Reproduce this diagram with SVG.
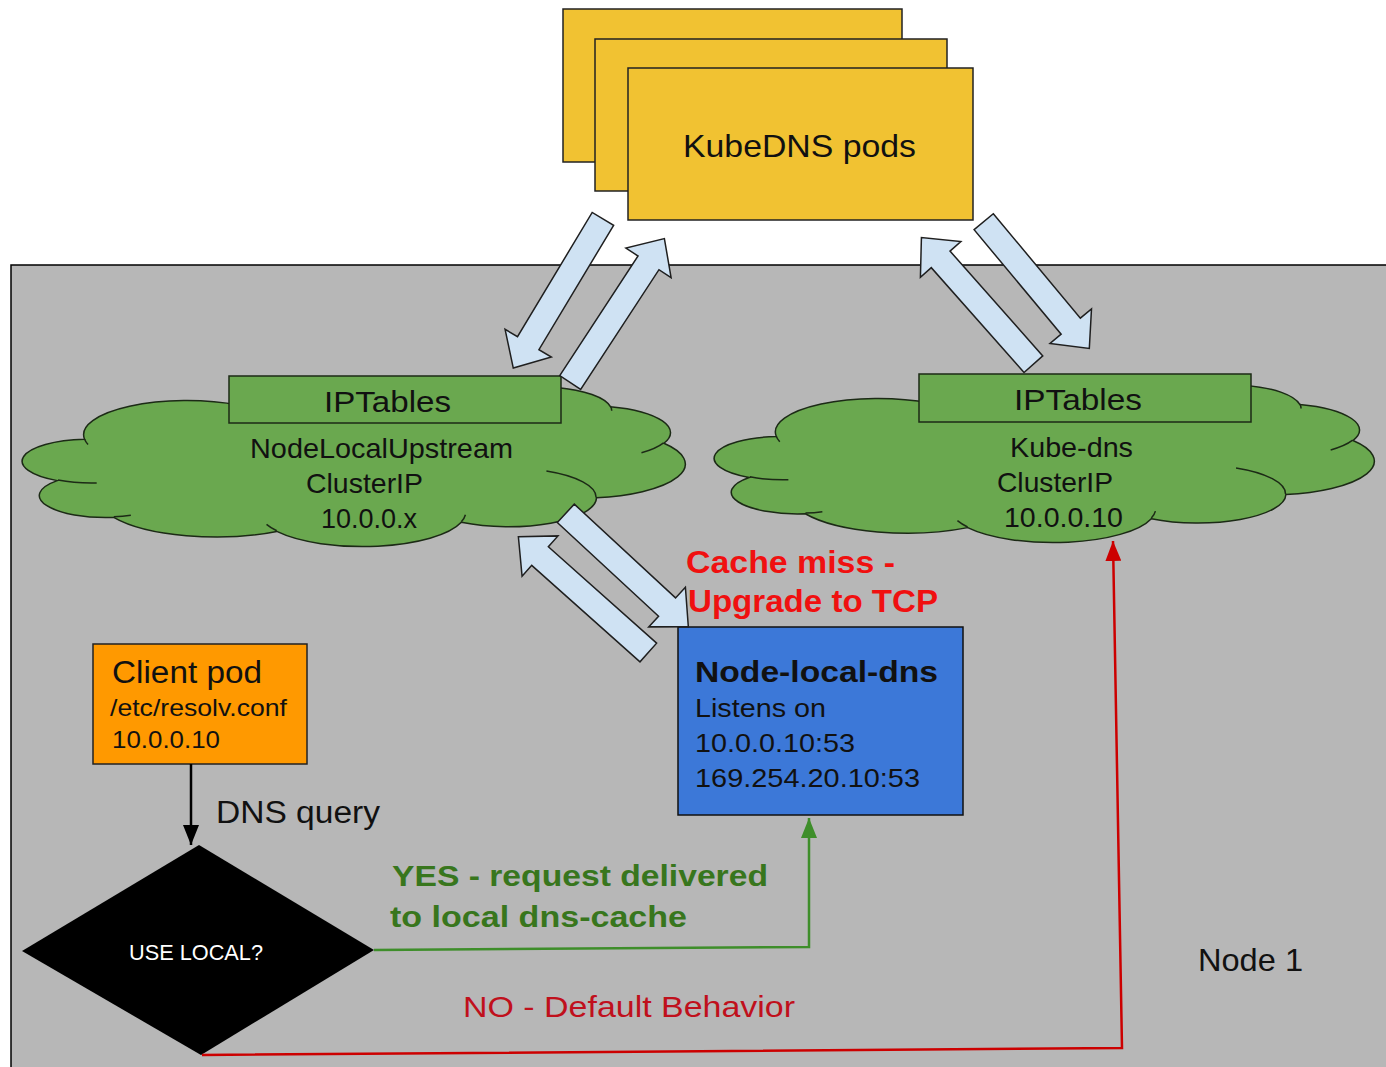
<svg xmlns="http://www.w3.org/2000/svg" xmlns:xlink="http://www.w3.org/1999/xlink" width="1386" height="1067" viewBox="0 0 1386 1067">
<style>
  text { font-family: "Liberation Sans", Arial, sans-serif; fill: #111; }
  .b { font-weight: bold; }
  .kube { fill: #f1c232; stroke: #222; stroke-width: 1.5; }
  .cloud { fill: #6aa84f; stroke: #1c2a16; stroke-width: 1.5; }
  .crease { fill: none; stroke: #1c2a16; stroke-width: 1.5; }
  .ipt { fill: #6aa84f; stroke: #1c2a16; stroke-width: 1.5; }
  .blk { fill: #cfe2f3; stroke: #1f1f1f; stroke-width: 1.5; stroke-linejoin: miter; }
  .conn { fill: none; stroke-width: 2.5; }
</style>
<defs>
  <path id="cloudP" vector-effect="non-scaling-stroke" d="M3900 14370 A6753 9190 0 0 1 14004.8 5202.1 A5333 7267 0 0 1 22457.3 3434.4 A4365 5945 0 0 1 29834.2 2482.4 A4857 6595 0 0 1 38319.8 5578.1 A5333 7273 0 0 1 41820.2 15461.7 A6775 9220 0 0 1 37406.2 30204.6 A5785 7867 0 0 1 28557.6 36814.6 A6752 9215 0 0 1 16482.9 39268.3 A7720 10543 0 0 1 5805.6 35472.5 A4360 5918 0 0 1 2114.5 25550.7 A4345 5945 0 0 1 3900 14370 Z"/>
  <path id="creaseP" vector-effect="non-scaling-stroke" d="M4693 26177 A4345 5945 0 0 1 2160.5 25380.2 M6928 34899 A4360 5918 0 0 1 5818.7 35280.8 M16478 39090 A6752 9215 0 0 1 15809.3 37348.1 M28827 34751 A6752 9215 0 0 1 28560.5 36659.4 M34129 22954 A5785 7867 0 0 1 37380.4 30089.6 M41798 15354 A5333 7273 0 0 1 40350.3 18029.6 M38324 5426 A4857 6595 0 0 1 38400.4 6688.5 M29078 3952 A4857 6595 0 0 1 29819.2 2341.1 M22141 4720 A4365 5945 0 0 1 22500.1 3330.2 M14000 5192 A6753 9190 0 0 1 15302.8 6543.9 M4127 15789 A6753 9190 0 0 1 3900.1 14369.8"/>
  <marker id="ahBlack" viewBox="0 0 20 16" markerWidth="20" markerHeight="16" refX="20" refY="8" orient="auto" markerUnits="userSpaceOnUse"><path d="M0,0 L20,8 L0,16 z" fill="#000"/></marker>
  <marker id="ahGreen" viewBox="0 0 20 16" markerWidth="20" markerHeight="16" refX="20" refY="8" orient="auto" markerUnits="userSpaceOnUse"><path d="M0,0 L20,8 L0,16 z" fill="#3e8e2a"/></marker>
  <marker id="ahRed" viewBox="0 0 20 16" markerWidth="20" markerHeight="16" refX="20" refY="8" orient="auto" markerUnits="userSpaceOnUse"><path d="M0,0 L20,8 L0,16 z" fill="#cc0000"/></marker>
</defs>

<rect x="0" y="0" width="1386" height="1067" fill="#ffffff"/>

<g id="node1">
  <rect x="11" y="265" width="1400" height="830" fill="#b7b7b7" stroke="#000" stroke-width="1.5"/>
  <text x="1198" y="971" font-size="32" textLength="105" lengthAdjust="spacingAndGlyphs">Node 1</text>
</g>

<g id="kubedns-pods">
  <rect class="kube" x="563" y="9" width="339" height="153"/>
  <rect class="kube" x="595" y="39" width="352" height="152"/>
  <rect class="kube" x="628" y="68" width="345" height="152"/>
  <text x="683" y="157" font-size="32" textLength="233" lengthAdjust="spacingAndGlyphs">KubeDNS pods</text>
</g>

<g id="cloud-upstream">
  <g transform="translate(25,386) scale(0.0152778,0.0037037)">
    <use xlink:href="#cloudP" class="cloud"/>
    <use xlink:href="#creaseP" class="crease"/>
  </g>
  <rect class="ipt" x="229" y="376" width="332" height="47"/>
  <text x="324" y="412" font-size="29" textLength="127" lengthAdjust="spacingAndGlyphs">IPTables</text>
  <text x="250" y="458" font-size="28" textLength="263" lengthAdjust="spacingAndGlyphs">NodeLocalUpstream</text>
  <text x="306" y="493" font-size="28" textLength="117" lengthAdjust="spacingAndGlyphs">ClusterIP</text>
  <text x="321" y="528" font-size="28" textLength="96" lengthAdjust="spacingAndGlyphs">10.0.0.x</text>
</g>

<g id="cloud-kubedns">
  <g transform="translate(717,384) scale(0.0152083,0.0036574)">
    <use xlink:href="#cloudP" class="cloud"/>
    <use xlink:href="#creaseP" class="crease"/>
  </g>
  <rect class="ipt" x="919" y="374" width="332" height="48"/>
  <text x="1014" y="410" font-size="29" textLength="128" lengthAdjust="spacingAndGlyphs">IPTables</text>
  <text x="1010" y="457" font-size="28" textLength="123" lengthAdjust="spacingAndGlyphs">Kube-dns</text>
  <text x="997" y="492" font-size="28" textLength="116" lengthAdjust="spacingAndGlyphs">ClusterIP</text>
  <text x="1004" y="527" font-size="28" textLength="119" lengthAdjust="spacingAndGlyphs">10.0.0.10</text>
</g>

<g id="client-pod">
  <rect x="93" y="644" width="214" height="120" fill="#ff9900" stroke="#222" stroke-width="1.5"/>
  <text x="112" y="683" font-size="31" textLength="150" lengthAdjust="spacingAndGlyphs">Client pod</text>
  <text x="110" y="716" font-size="24" textLength="177" lengthAdjust="spacingAndGlyphs">/etc/resolv.conf</text>
  <text x="112" y="748" font-size="24" textLength="108" lengthAdjust="spacingAndGlyphs">10.0.0.10</text>
</g>

<g id="node-local-dns">
  <rect x="678" y="627" width="285" height="188" fill="#3c78d8" stroke="#111" stroke-width="1.5"/>
  <text class="b" x="695" y="682" font-size="29" textLength="243" lengthAdjust="spacingAndGlyphs">Node-local-dns</text>
  <text x="695" y="717" font-size="25" textLength="131" lengthAdjust="spacingAndGlyphs">Listens on</text>
  <text x="695" y="752" font-size="25" textLength="160" lengthAdjust="spacingAndGlyphs">10.0.0.10:53</text>
  <text x="695" y="787" font-size="25" textLength="225" lengthAdjust="spacingAndGlyphs">169.254.20.10:53</text>
</g>

<g id="use-local">
  <polygon points="199,845 374,950 201,1055 22,951" fill="#000"/>
  <text x="129" y="960" font-size="22" textLength="134" lengthAdjust="spacingAndGlyphs" style="fill:#fff">USE LOCAL?</text>
</g>

<g id="connectors">
  <polygon class="blk" transform="translate(602.9,218.9) rotate(121)" points="0,-12.5 145,-12.5 145,-27 174,0 145,27 145,12.5 0,12.5"/>
  <polygon class="blk" transform="translate(570.2,382.5) rotate(-56.8)" points="0,-12.5 143,-12.5 143,-27 172,0 143,27 143,12.5 0,12.5"/>
  <polygon class="blk" transform="translate(1033.4,364.2) rotate(-131.5)" points="0,-12.5 140,-12.5 140,-27 169,0 140,27 140,12.5 0,12.5"/>
  <polygon class="blk" transform="translate(983.7,221.7) rotate(50.2)" points="0,-12.5 136,-12.5 136,-27 165,0 136,27 136,12.5 0,12.5"/>
  <polygon class="blk" transform="translate(648.3,652.5) rotate(-138.3)" points="0,-12.5 145,-12.5 145,-27 174,0 145,27 145,12.5 0,12.5"/>
  <polygon class="blk" transform="translate(565.8,513.3) rotate(42.8)" points="0,-12.5 138,-12.5 138,-27 167,0 138,27 138,12.5 0,12.5"/>

  <path class="conn" d="M191 764 L191 845" stroke="#000" marker-end="url(#ahBlack)"/>
  <path class="conn" d="M374 950 L809 947 L809 818" stroke="#3e8e2a" marker-end="url(#ahGreen)"/>
  <path class="conn" d="M202 1055 L1122 1048 L1113 541" stroke="#cc0000" marker-end="url(#ahRed)"/>

  <text x="216" y="823" font-size="31" textLength="164" lengthAdjust="spacingAndGlyphs">DNS query</text>
  <text class="b" x="686" y="573" font-size="31" textLength="209" lengthAdjust="spacingAndGlyphs" style="fill:#f01010">Cache miss -</text>
  <text class="b" x="688" y="612" font-size="31" textLength="250" lengthAdjust="spacingAndGlyphs" style="fill:#f01010">Upgrade to TCP</text>
  <text class="b" x="392" y="886" font-size="30" textLength="376" lengthAdjust="spacingAndGlyphs" style="fill:#38761d">YES - request delivered</text>
  <text class="b" x="390" y="927" font-size="30" textLength="297" lengthAdjust="spacingAndGlyphs" style="fill:#38761d">to local dns-cache</text>
  <text x="463" y="1017" font-size="30" textLength="332" lengthAdjust="spacingAndGlyphs" style="fill:#c0101c">NO - Default Behavior</text>
</g>
</svg>
